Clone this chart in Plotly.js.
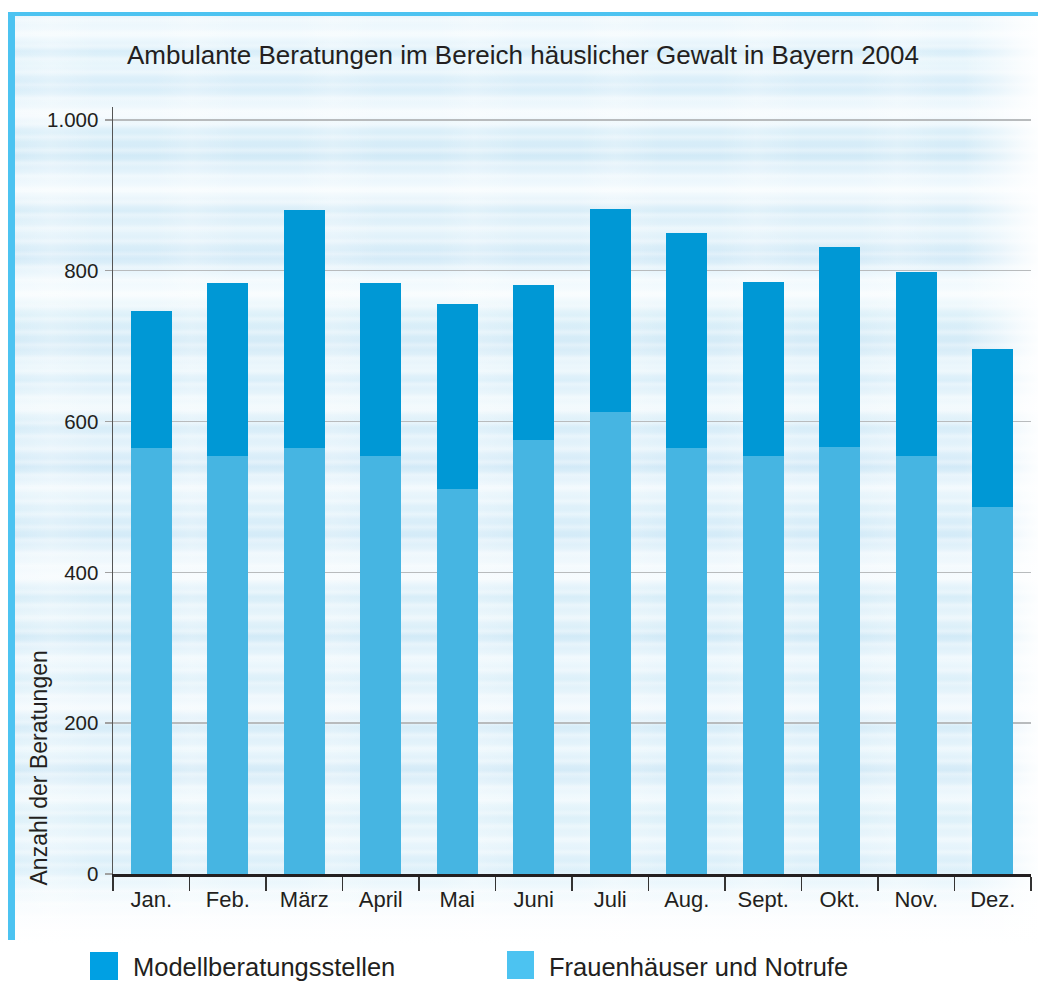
<!DOCTYPE html>
<html><head><meta charset="utf-8">
<script src="https://cdn.plot.ly/plotly-3.0.1.min.js"></script>
<style>
body{margin:0;background:#fff;}
#wrap{position:relative;width:1038px;height:983px;overflow:hidden;background:#fff;}
#tex{position:absolute;left:14px;top:16px;width:1024px;height:932px;}
#lb{position:absolute;left:8px;top:12px;width:7px;height:928px;background:#4cc3f1;}
#tb{position:absolute;left:8px;top:12px;width:1030px;height:4px;background:#4cc3f1;}
#plot{position:absolute;left:0;top:0;width:1038px;height:983px;}
</style></head>
<body>
<div id="wrap"><div id="tex"></div><div id="lb"></div><div id="tb"></div><div id="plot"></div></div>
<script>
var months = ['Jan.','Feb.','März','April','Mai','Juni','Juli','Aug.','Sept.','Okt.','Nov.','Dez.'];
var frauenhaeuser = [565, 554, 565, 554, 511, 576, 613, 565, 554, 566, 554, 487];
var modellberatung = [182, 229, 316, 229, 245, 205, 269, 285, 231, 266, 244, 209];
var yTickVals = [0, 200, 400, 600, 800, 1000];
var yTickText = ['0', '200', '400', '600', '800', '1.000'];
var seriesNames = ['Modellberatungsstellen', 'Frauenhäuser und Notrufe'];
var titleText = 'Ambulante Beratungen im Bereich häuslicher Gewalt in Bayern 2004';
var yTitle = 'Anzahl der Beratungen';

// watercolour-like background bands (decoration only)
var bandStops = [[0,'#e8f5fc'],[20,'#f2fafe'],[35,'#d9eef9'],[50,'#e9f6fc'],[70,'#d4ebf8'],[85,'#eaf6fc'],
 [100,'#f6fbfe'],[115,'#dbeff9'],[140,'#d2eaf7'],[160,'#e8f5fc'],[175,'#f5fbfe'],[195,'#d8edf8'],
 [215,'#e6f4fb'],[240,'#d1e9f7'],[260,'#eef8fd'],[280,'#f7fcfe'],[300,'#dcf0f9'],[330,'#d3eaf7'],
 [350,'#ecf7fc'],[365,'#d9eef9'],[390,'#f3fafd'],[410,'#d6ecf8'],[430,'#e4f3fb'],[450,'#d1e9f7'],
 [470,'#eff8fd'],[490,'#dff1fa'],[520,'#d4ebf8'],[540,'#edf7fc'],[560,'#f6fbfe'],[580,'#d7edf8'],
 [600,'#e8f5fb'],[620,'#d2eaf7'],[645,'#eef8fd'],[665,'#dbeff9'],[690,'#f4fafe'],[710,'#d6ecf8'],
 [735,'#e9f6fc'],[755,'#d3eaf7'],[780,'#f0f9fd'],[800,'#dcf0f9'],[825,'#eaf6fc'],[850,'#d9eef9'],
 [870,'#eef8fd'],[895,'#f6fbfe'],[932,'#ffffff']];
var bandCss = 'linear-gradient(to bottom,' + bandStops.map(function(s){return s[1]+' '+s[0]+'px';}).join(',') + ')';
document.getElementById('tex').style.background =
 'linear-gradient(to right, rgba(255,255,255,0) 0, rgba(255,255,255,0) 950px, rgba(255,255,255,0.92) 1024px),' +
 'linear-gradient(to bottom, rgba(255,255,255,0) 0, rgba(255,255,255,0) 870px, #fff 930px),' +
 'repeating-linear-gradient(to bottom, rgba(255,255,255,0) 0, rgba(255,255,255,0.35) 4px, rgba(255,255,255,0) 9px, rgba(255,255,255,0) 13px),' +
 'repeating-linear-gradient(to right, rgba(255,255,255,0) 0, rgba(255,255,255,0.22) 37px, rgba(255,255,255,0) 83px, rgba(255,255,255,0) 141px),' +
 bandCss;

var FONT = 'Liberation Sans, Arial, sans-serif';
var W = 1038, H = 983, ML = 113, MR = 7, MT = 107, MB = 109;
var PW = W - ML - MR, PH = H - MT - MB;
function px(x){ return (x - ML) / PW; }
function py(y){ return (H - MB - y) / PH; }

var traces = [
  {type:'bar', x: months, y: frauenhaeuser, name: seriesNames[1],
   marker:{color:'#46b5e2', line:{width:0}}, hoverinfo:'skip'},
  {type:'bar', x: months, y: modellberatung, name: seriesNames[0],
   marker:{color:'#0098d5', line:{width:0}}, hoverinfo:'skip'}
];

var layout = {
  width: W, height: H, autosize: false,
  margin: {l: ML, r: MR, t: MT, b: MB, pad: 0},
  paper_bgcolor: 'rgba(0,0,0,0)', plot_bgcolor: 'rgba(0,0,0,0)',
  barmode: 'stack', bargap: 0.46, showlegend: false,
  font: {family: FONT, color: '#231f20'},
  title: {text: titleText, font: {family: FONT, size: 26, color: '#231f20'},
          xref: 'container', x: 523/W, xanchor: 'center',
          yref: 'container', y: 1 - 55/H, yanchor: 'middle'},
  xaxis: {type: 'category', tickson: 'boundaries', ticks: 'outside', ticklen: 14,
          tickwidth: 1.5, tickcolor: '#333', showline: true, linecolor: '#231f20',
          linewidth: 2.5, showgrid: false, zeroline: false, ticklabelstandoff: 4,
          tickfont: {family: FONT, size: 22, color: '#231f20'}},
  yaxis: {range: [0, 1017], tickvals: yTickVals, ticktext: yTickText,
          ticks: 'outside', ticklen: 7, tickwidth: 1.5, tickcolor: '#a0a0a0',
          showline: true, linecolor: '#555', linewidth: 1.5, ticklabelstandoff: 2,
          showgrid: true, gridcolor: '#b8bbbd', gridwidth: 1.5, zeroline: false,
          tickfont: {family: FONT, size: 20.5, color: '#231f20'}},
  shapes: [
    {type:'rect', xref:'paper', yref:'paper', x0: px(90), x1: px(118), y0: py(980), y1: py(952),
     fillcolor:'#00a0e3', line:{width:0}},
    {type:'rect', xref:'paper', yref:'paper', x0: px(507), x1: px(534), y0: py(979), y1: py(951),
     fillcolor:'#4cc3f1', line:{width:0}}
  ],
  annotations: [
    {text: yTitle, textangle: -90, xref:'paper', yref:'paper', x: px(38), y: py(888),
     xanchor:'center', yanchor:'bottom', showarrow:false,
     font:{family: FONT, size: 23, color:'#231f20'}},
    {text: seriesNames[0], xref:'paper', yref:'paper', x: px(131), y: py(967),
     xanchor:'left', yanchor:'middle', showarrow:false,
     font:{family: FONT, size: 25.5, color:'#231f20'}},
    {text: seriesNames[1], xref:'paper', yref:'paper', x: px(547), y: py(967),
     xanchor:'left', yanchor:'middle', showarrow:false,
     font:{family: FONT, size: 25.5, color:'#231f20'}}
  ]
};

Plotly.newPlot('plot', traces, layout, {staticPlot: true, displayModeBar: false});
</script>
</body></html>
